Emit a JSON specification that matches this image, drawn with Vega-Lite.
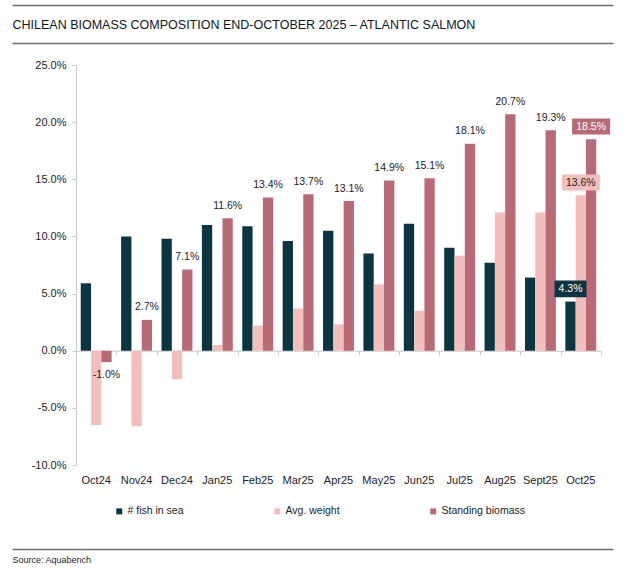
{
  "$schema": "https://vega.github.io/schema/vega-lite/v6.json",
  "autosize": "none",
  "width": 601,
  "height": 400,
  "padding": {"left": 12, "top": 65, "right": 10, "bottom": 108},
  "background": "white",
  "data": {
    "values": [
      {"month": "Oct24", "series": "# fish in sea", "value": 0.059},
      {"month": "Oct24", "series": "Avg. weight", "value": -0.065},
      {"month": "Oct24", "series": "Standing biomass", "value": -0.010},
      {"month": "Nov24", "series": "# fish in sea", "value": 0.100},
      {"month": "Nov24", "series": "Avg. weight", "value": -0.066},
      {"month": "Nov24", "series": "Standing biomass", "value": 0.027},
      {"month": "Dec24", "series": "# fish in sea", "value": 0.098},
      {"month": "Dec24", "series": "Avg. weight", "value": -0.025},
      {"month": "Dec24", "series": "Standing biomass", "value": 0.071},
      {"month": "Jan25", "series": "# fish in sea", "value": 0.110},
      {"month": "Jan25", "series": "Avg. weight", "value": 0.005},
      {"month": "Jan25", "series": "Standing biomass", "value": 0.116},
      {"month": "Feb25", "series": "# fish in sea", "value": 0.109},
      {"month": "Feb25", "series": "Avg. weight", "value": 0.022},
      {"month": "Feb25", "series": "Standing biomass", "value": 0.134},
      {"month": "Mar25", "series": "# fish in sea", "value": 0.096},
      {"month": "Mar25", "series": "Avg. weight", "value": 0.037},
      {"month": "Mar25", "series": "Standing biomass", "value": 0.137},
      {"month": "Apr25", "series": "# fish in sea", "value": 0.105},
      {"month": "Apr25", "series": "Avg. weight", "value": 0.023},
      {"month": "Apr25", "series": "Standing biomass", "value": 0.131},
      {"month": "May25", "series": "# fish in sea", "value": 0.085},
      {"month": "May25", "series": "Avg. weight", "value": 0.058},
      {"month": "May25", "series": "Standing biomass", "value": 0.149},
      {"month": "Jun25", "series": "# fish in sea", "value": 0.111},
      {"month": "Jun25", "series": "Avg. weight", "value": 0.035},
      {"month": "Jun25", "series": "Standing biomass", "value": 0.151},
      {"month": "Jul25", "series": "# fish in sea", "value": 0.090},
      {"month": "Jul25", "series": "Avg. weight", "value": 0.083},
      {"month": "Jul25", "series": "Standing biomass", "value": 0.181},
      {"month": "Aug25", "series": "# fish in sea", "value": 0.077},
      {"month": "Aug25", "series": "Avg. weight", "value": 0.121},
      {"month": "Aug25", "series": "Standing biomass", "value": 0.207},
      {"month": "Sept25", "series": "# fish in sea", "value": 0.064},
      {"month": "Sept25", "series": "Avg. weight", "value": 0.121},
      {"month": "Sept25", "series": "Standing biomass", "value": 0.193},
      {"month": "Oct25", "series": "# fish in sea", "value": 0.043},
      {"month": "Oct25", "series": "Avg. weight", "value": 0.136},
      {"month": "Oct25", "series": "Standing biomass", "value": 0.185}
    ]
  },
  "layer": [
    {
      "layer": [
        {
          "mark": {"type": "bar"},
          "encoding": {
            "x": {
              "field": "month", "type": "nominal",
              "sort": ["Oct24", "Nov24", "Dec24", "Jan25", "Feb25", "Mar25", "Apr25", "May25", "Jun25", "Jul25", "Aug25", "Sept25", "Oct25"],
              "scale": {"range": [64, 589], "paddingInner": 0, "paddingOuter": 0},
              "axis": {"orient": "bottom", "title": null, "domain": false, "ticks": false, "labelAngle": 0, "labelPadding": 9, "labelFontSize": 11, "labelColor": "#1c1c28"}
            },
            "xOffset": {
              "field": "series", "type": "nominal",
              "sort": ["# fish in sea", "Avg. weight", "Standing biomass"],
              "scale": {"paddingInner": 0, "paddingOuter": 0.46}
            },
            "y": {
              "field": "value", "type": "quantitative",
              "scale": {"domain": [-0.1, 0.25], "nice": false},
              "axis": {
                "title": null, "offset": -64, "grid": false, "format": ".1%",
                "values": [-0.1, -0.05, 0, 0.05, 0.1, 0.15, 0.2, 0.25],
                "domainColor": "#c8c8c8", "tickColor": "#c8c8c8", "tickSize": 4,
                "labelPadding": 6, "labelFontSize": 11, "labelColor": "#1c1c28"
              }
            },
            "color": {
              "field": "series", "type": "nominal",
              "scale": {
                "domain": ["# fish in sea", "Avg. weight", "Standing biomass"],
                "range": ["#0b3540", "#f1bfbb", "#b86b76"]
              },
              "legend": {
                "orient": "none", "legendX": 102, "legendY": 441, "direction": "horizontal",
                "title": null, "symbolType": "square", "symbolSize": 36, "symbolStrokeWidth": 0,
                "labelFontSize": 10.5, "labelOffset": 3, "columnPadding": 88, "padding": 0,
                "labelColor": "#1c1c28"
              }
            }
          }
        },
        {
          "transform": [{"filter": "datum.series === 'Standing biomass' && datum.month !== 'Oct25' && datum.value >= 0"}],
          "mark": {"type": "text", "baseline": "middle", "fontSize": 10.5, "color": "#1c1c28", "dy": -12.5},
          "encoding": {
            "x": {"field": "month", "type": "nominal", "sort": ["Oct24", "Nov24", "Dec24", "Jan25", "Feb25", "Mar25", "Apr25", "May25", "Jun25", "Jul25", "Aug25", "Sept25", "Oct25"]},
            "xOffset": {"field": "series", "type": "nominal", "sort": ["# fish in sea", "Avg. weight", "Standing biomass"]},
            "y": {"field": "value", "type": "quantitative"},
            "text": {"field": "value", "type": "quantitative", "format": ".1%"}
          }
        },
        {
          "transform": [{"filter": "datum.series === 'Standing biomass' && datum.value < 0"}],
          "mark": {"type": "text", "baseline": "middle", "fontSize": 10.5, "color": "#1c1c28", "dy": 12.5},
          "encoding": {
            "x": {"field": "month", "type": "nominal", "sort": ["Oct24", "Nov24", "Dec24", "Jan25", "Feb25", "Mar25", "Apr25", "May25", "Jun25", "Jul25", "Aug25", "Sept25", "Oct25"]},
            "xOffset": {"field": "series", "type": "nominal", "sort": ["# fish in sea", "Avg. weight", "Standing biomass"]},
            "y": {"field": "value", "type": "quantitative"},
            "text": {"field": "value", "type": "quantitative", "format": ".1%"}
          }
        },
        {
          "transform": [{"filter": "datum.month === 'Oct25'"}],
          "mark": {"type": "point", "filled": true, "opacity": 1, "strokeWidth": 0},
          "encoding": {
            "x": {"field": "month", "type": "nominal", "sort": ["Oct24", "Nov24", "Dec24", "Jan25", "Feb25", "Mar25", "Apr25", "May25", "Jun25", "Jul25", "Aug25", "Sept25", "Oct25"]},
            "xOffset": {"field": "series", "type": "nominal", "sort": ["# fish in sea", "Avg. weight", "Standing biomass"]},
            "y": {"field": "value", "type": "quantitative"},
            "yOffset": {"value": -12.7},
            "color": {"field": "series", "type": "nominal"},
            "shape": {"condition": {"test": "datum.series === '# fish in sea'", "value": "M-1,-0.52H1V0.52H-1Z"}, "value": "M-1,-0.42H1V0.42H-1Z"},
            "size": {"condition": {"test": "datum.series === '# fish in sea'", "value": 1024}, "value": 1444}
          }
        },
        {
          "transform": [{"filter": "datum.month === 'Oct25'"}],
          "mark": {"type": "text", "baseline": "middle", "fontSize": 10.5, "dy": -12.7},
          "encoding": {
            "x": {"field": "month", "type": "nominal", "sort": ["Oct24", "Nov24", "Dec24", "Jan25", "Feb25", "Mar25", "Apr25", "May25", "Jun25", "Jul25", "Aug25", "Sept25", "Oct25"]},
            "xOffset": {"field": "series", "type": "nominal", "sort": ["# fish in sea", "Avg. weight", "Standing biomass"]},
            "y": {"field": "value", "type": "quantitative"},
            "text": {"field": "value", "type": "quantitative", "format": ".1%"},
            "color": {"condition": {"test": "datum.series === 'Avg. weight'", "value": "#1c1c28"}, "value": "#ffffff"}
          }
        }
      ]
    },
    {
      "mark": {"type": "rule", "opacity": 0},
      "encoding": {
        "x": {
          "field": "month", "type": "nominal",
          "sort": ["Oct24", "Nov24", "Dec24", "Jan25", "Feb25", "Mar25", "Apr25", "May25", "Jun25", "Jul25", "Aug25", "Sept25", "Oct25"],
          "scale": {"range": [64, 589], "paddingInner": 0, "paddingOuter": 0},
          "axis": {"orient": "bottom", "offset": -114.3, "title": null, "labels": false, "domainColor": "#c8c8c8", "tickColor": "#c8c8c8", "tickBand": "extent", "tickSize": 4}
        }
      }
    },
    {
      "mark": {"type": "rule", "opacity": 0},
      "encoding": {
        "x": {
          "field": "month", "type": "nominal",
          "axis": {"orient": "top", "offset": 60, "title": null, "labels": false, "ticks": false, "domainColor": "#6f6f6f", "domainWidth": 1.5}
        }
      }
    },
    {
      "mark": {"type": "rule", "opacity": 0},
      "encoding": {
        "x": {
          "field": "month", "type": "nominal",
          "axis": {
            "orient": "top", "offset": 22, "labels": false, "ticks": false, "domainColor": "#6f6f6f", "domainWidth": 1.5,
            "title": "CHILEAN BIOMASS COMPOSITION END-OCTOBER 2025 – ATLANTIC SALMON",
            "titleAnchor": "start", "titleAlign": "left", "titleFontSize": 12.5, "titleFontWeight": "normal",
            "titleColor": "#0e1726", "titlePadding": 12
          }
        }
      }
    },
    {
      "mark": {"type": "rule", "opacity": 0},
      "encoding": {
        "x": {
          "field": "month", "type": "nominal",
          "axis": {
            "orient": "bottom", "offset": 84, "labels": false, "ticks": false, "domainColor": "#6f6f6f", "domainWidth": 1.5,
            "title": "Source: Aquabench",
            "titleAnchor": "start", "titleAlign": "left", "titleFontSize": 9, "titleFontWeight": "normal",
            "titleColor": "#1c1c28", "titlePadding": 6
          }
        }
      }
    }
  ],
  "resolve": {"scale": {"x": "independent"}, "axis": {"x": "independent"}},
  "config": {
    "view": {"stroke": null},
    "font": "Liberation Sans",
    "locale": {"number": {"decimal": ".", "thousands": ",", "grouping": [3], "currency": ["$", ""], "minus": "-"}}
  }
}
